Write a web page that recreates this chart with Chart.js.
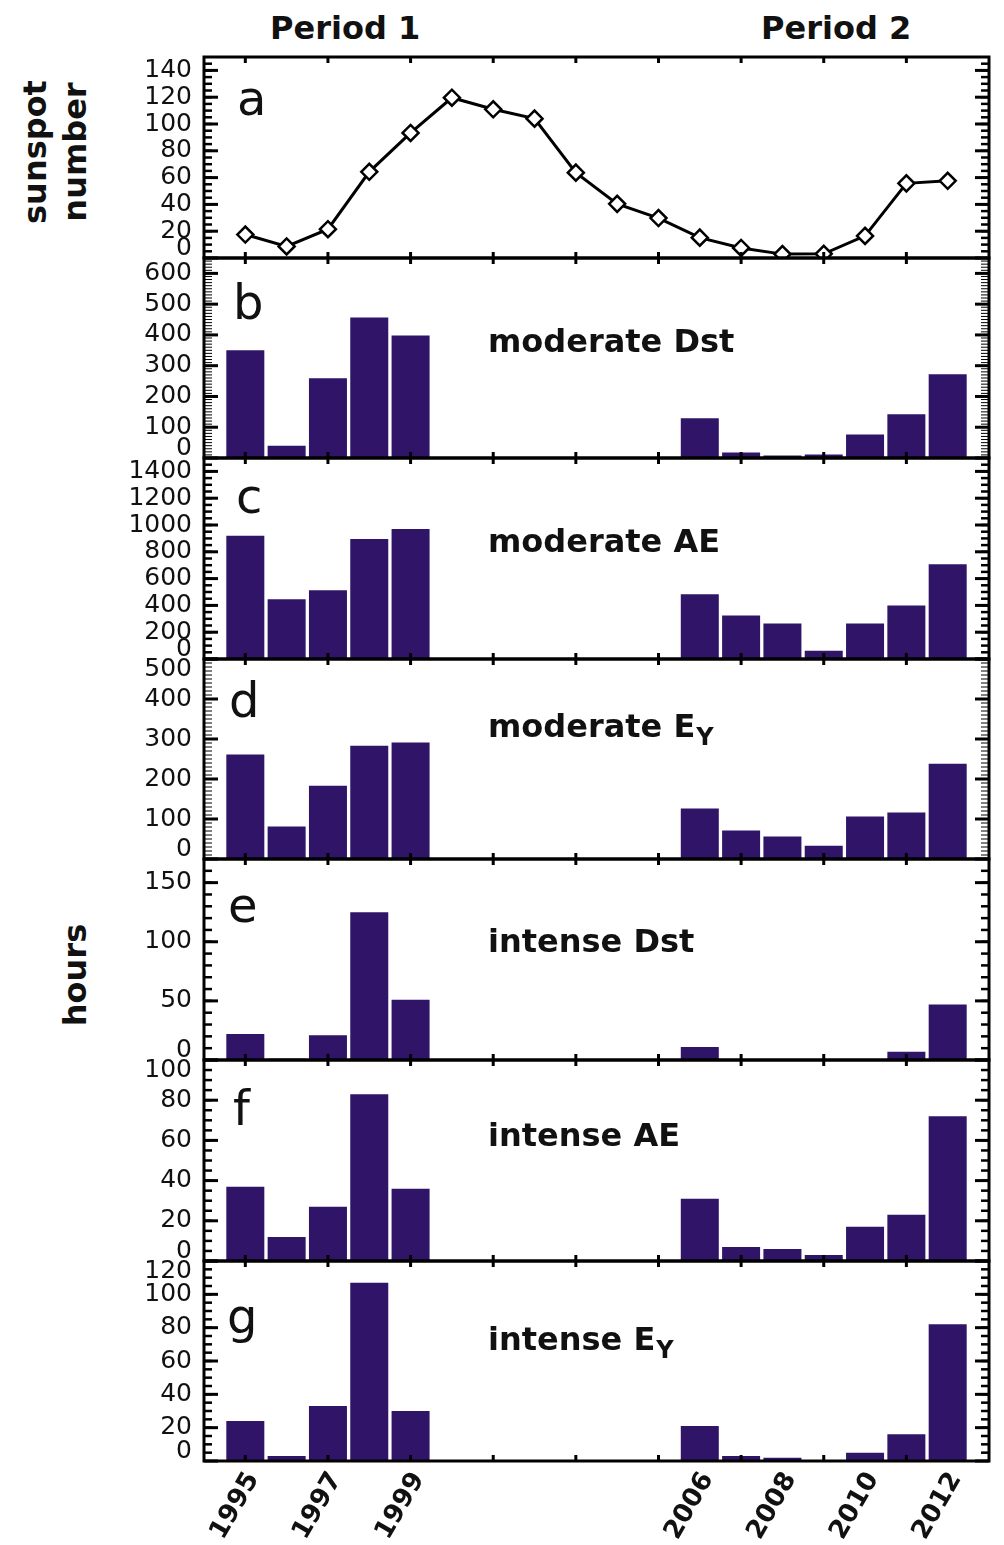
<!DOCTYPE html>
<html>
<head>
<meta charset="utf-8">
<title>Sunspot number and storm hours</title>
<script src="https://cdn.jsdelivr.net/npm/chart.js@4.4.1/dist/chart.umd.min.js"></script>
<style>
  html, body { margin: 0; padding: 0; background: #fff; }
  #page { position: relative; width: 1004px; height: 1545px; overflow: hidden; }
  #page canvas { position: absolute; left: 0; }
  .txt { position: absolute; font-family: "DejaVu Sans", sans-serif; font-weight: bold;
         font-size: 32px; line-height: 32px; color: #111; white-space: nowrap; }
  .rot { transform: translate(-50%, -50%) rotate(-90deg); }
</style>
</head>
<body>
<div id="page">
  <div class="txt" style="left:270px; top:12px;">Period 1</div>
  <div class="txt" style="left:761px; top:12px;">Period 2</div>
  <div class="txt rot" style="left:35px; top:152px;">sunspot</div>
  <div class="txt rot" style="left:75px; top:152px;">number</div>
  <div class="txt rot" style="left:75px; top:975px;">hours</div>
</div>
<script>
// --- data ---
const years = [1995, 1996, 1997, 1998, 1999, 2000, 2001, 2002, 2003,
               2004, 2005, 2006, 2007, 2008, 2009, 2010, 2011, 2012];

const sunspot     = [17.5, 8.6, 21.5, 64.3, 93.3, 119.6, 111.0, 104.0, 63.7,
                     40.4, 29.8, 15.2, 7.5, 2.9, 3.1, 16.5, 55.7, 57.6];
// hours per year (no data 2000-2005)
const moderateDst = [350, 40, 259, 457, 398, null, null, null, null, null, null, 129, 18, 8, 11, 76, 142, 272];
const moderateAE  = [919, 445, 513, 896, 971, null, null, null, null, null, null, 483, 325, 265, 62, 265, 400, 708];
const moderateEy  = [261, 81, 183, 283, 291, null, null, null, null, null, null, 126, 71, 56, 33, 106, 116, 238];
const intenseDst  = [22, 1, 21, 125, 51, null, null, null, null, null, null, 11, 0, 0, 0, 0, 7, 47];
const intenseAE   = [37, 12, 27, 83, 36, null, null, null, null, null, null, 31, 7, 6, 3, 17, 23, 72];
const intenseEy   = [24, 3, 33, 107, 30, null, null, null, null, null, null, 21, 3, 2, 0, 5, 16, 82];

// tick labels
const xLabelYears  = [1995, 1997, 1999, 2006, 2008, 2010, 2012];
const xTickYears   = [1995, 1997, 1999, 2001, 2003, 2005, 2007, 2009, 2011];
const sunspotTicks = [0, 20, 40, 60, 80, 100, 120, 140];
const modDstTicks  = [0, 100, 200, 300, 400, 500, 600];
const modAETicks   = [0, 200, 400, 600, 800, 1000, 1200, 1400];
const modEyTicks   = [0, 100, 200, 300, 400, 500];
const intDstTicks  = [0, 50, 100, 150];
const intAETicks   = [0, 20, 40, 60, 80, 100];
const intEyTicks   = [0, 20, 40, 60, 80, 100, 120];

// --- layout of the stacked panels ---
const panelTops = [57, 258, 458, 659, 859, 1060, 1261];
const panelBottom = 1461;
const PAD = 40;
const X_AXIS_H = 84;
const barColor = '#2f1468';

const panels = [
  { letter: 'a', values: sunspot, ticks: sunspotTicks, max: 150, minor: 5, line: true, lx: 237, ly: 115 },
  { letter: 'b', name: 'moderate Dst', values: moderateDst, ticks: modDstTicks, max: 650, minor: 10, thin: true, lx: 233, ly: 319, ny: 352 },
  { letter: 'c', name: 'moderate AE', values: moderateAE, ticks: modAETicks, max: 1500, minor: 50, lx: 236, ly: 513, ny: 552 },
  { letter: 'd', name: 'moderate E', sub: 'Y', values: moderateEy, ticks: modEyTicks, max: 500, minor: 10, thin: true, lx: 229, ly: 717, ny: 737 },
  { letter: 'e', name: 'intense Dst', values: intenseDst, ticks: intDstTicks, max: 170, minor: 10, lx: 228, ly: 922, ny: 952 },
  { letter: 'f', name: 'intense AE', values: intenseAE, ticks: intAETicks, max: 100, minor: 5, lx: 233, ly: 1125, ny: 1146 },
  { letter: 'g', name: 'intense E', sub: 'Y', values: intenseEy, ticks: intEyTicks, max: 120, minor: 5, lx: 227, ly: 1333, ny: 1350 }
];

// frame, inward ticks and panel captions
const framePlugin = {
  id: 'frame',
  afterDatasetsDraw(chart, args, o) {
    const { ctx, chartArea: a } = chart;
    const x = chart.scales.x, y = chart.scales.y;
    const seg = (x1, y1, x2, y2) => { ctx.beginPath(); ctx.moveTo(x1, y1); ctx.lineTo(x2, y2); ctx.stroke(); };
    ctx.save();
    ctx.strokeStyle = '#000';
    ctx.lineWidth = o.thin ? 1 : 2.5;
    for (let v = o.minor; v < y.max; v += o.minor) {
      const py = y.getPixelForValue(v);
      seg(a.left, py, a.left + 8, py);
      seg(a.right, py, a.right - 8, py);
    }
    ctx.lineWidth = 3;
    y.ticks.forEach(t => {
      const py = y.getPixelForValue(t.value);
      seg(a.left, py, a.left + 14, py);
      seg(a.right, py, a.right - 14, py);
    });
    xTickYears.forEach(v => {
      const px = x.getPixelForValue(v);
      seg(px, a.top, px, a.top + 6);
      seg(px, a.bottom, px, a.bottom - 6);
    });
    ctx.strokeRect(a.left, a.top, a.right - a.left, a.bottom - a.top);

    ctx.fillStyle = '#111';
    ctx.textBaseline = 'alphabetic';
    ctx.font = '48px "DejaVu Sans"';
    ctx.fillText(o.letter, o.lx, o.ly - o.top0);
    if (o.name) {
      ctx.font = 'bold 32px "DejaVu Sans"';
      ctx.fillText(o.name, 488, o.ny - o.top0);
      if (o.sub) {
        const w = ctx.measureText(o.name).width;
        ctx.font = 'bold 24px "DejaVu Sans"';
        ctx.fillText(o.sub, 488 + w + 1, o.ny - o.top0 + 8);
      }
    }
    ctx.restore();
  }
};
Chart.register(framePlugin);

const page = document.getElementById('page');

panels.forEach((p, i) => {
  const last = i === panels.length - 1;
  const top = panelTops[i];
  const bottom = last ? panelBottom : panelTops[i + 1];
  const canvas = document.createElement('canvas');
  canvas.width = 1004;
  canvas.height = PAD + (bottom - top) + (last ? X_AXIS_H : PAD);
  canvas.style.top = (top - PAD) + 'px';
  page.appendChild(canvas);

  const points = years.map((yr, k) => ({ x: yr, y: p.values[k] })).filter(pt => pt.y !== null);

  const dataset = p.line ? {
    data: points,
    borderColor: '#000',
    borderWidth: 3,
    tension: 0,
    pointStyle: 'rectRot',
    pointRadius: 8,
    pointBorderWidth: 2.5,
    pointBorderColor: '#000',
    pointBackgroundColor: '#fff'
  } : {
    data: points,
    backgroundColor: barColor,
    borderWidth: 0,
    barPercentage: 0.92,
    categoryPercentage: 1
  };

  new Chart(canvas, {
    type: p.line ? 'line' : 'bar',
    data: { datasets: [dataset] },
    options: {
      responsive: false,
      animation: false,
      layout: { padding: { top: PAD, bottom: last ? 0 : PAD, left: 0, right: 15 } },
      plugins: {
        legend: { display: false },
        tooltip: { enabled: false },
        frame: { letter: p.letter, name: p.name || '', sub: p.sub || '', lx: p.lx, ly: p.ly, ny: p.ny || 0,
                 top0: top - PAD, minor: p.minor, thin: !!p.thin }
      },
      scales: {
        x: {
          type: 'linear',
          min: 1994,
          max: 2013,
          offset: false,
          display: last,
          grid: { display: false, drawTicks: false },
          border: { display: false },
          afterBuildTicks: s => { s.ticks = xLabelYears.map(v => ({ value: v })); },
          afterFit: s => { s.height = last ? X_AXIS_H : 0; },
          ticks: {
            autoSkip: false,
            minRotation: 60,
            maxRotation: 60,
            padding: 6,
            labelOffset: 8,
            color: '#111',
            font: { family: 'DejaVu Sans', weight: 'bold', size: 26 },
            callback: v => String(v)
          }
        },
        y: {
          min: 0,
          max: p.max,
          grid: { display: false, drawTicks: false },
          border: { display: false },
          afterBuildTicks: s => { s.ticks = p.ticks.map(v => ({ value: v })); },
          afterFit: s => { s.width = 204; },
          ticks: {
            autoSkip: false,
            padding: 12,
            color: '#111',
            font: { family: 'DejaVu Sans', size: 25, lineHeight: 0.8 },
            // raise the bottom 0 and lower a label sitting on the top edge
            callback: v => v === 0 ? ['0', ''] : (v === p.max ? ['', String(v)] : String(v))
          }
        }
      }
    }
  });
});
</script>
</body>
</html>
